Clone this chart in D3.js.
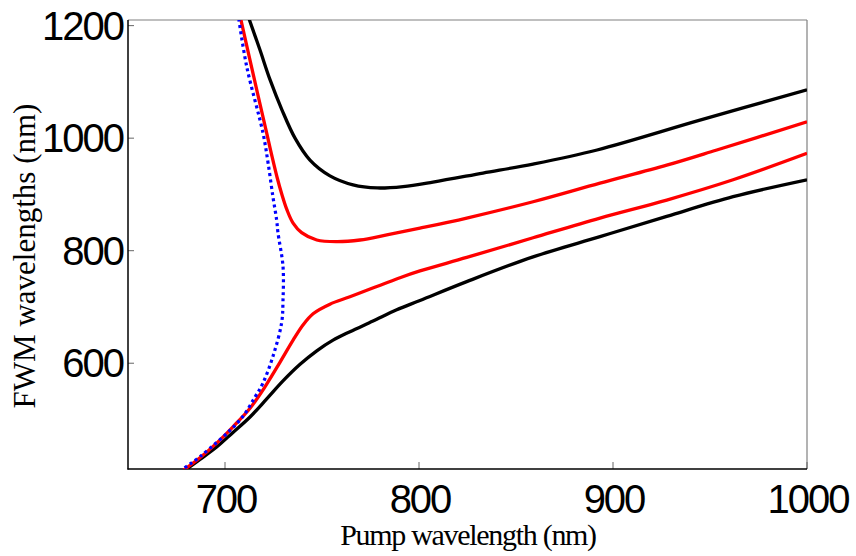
<!DOCTYPE html>
<html lang="en">
<head>
  <meta charset="UTF-8">
  <title>FWM wavelengths vs pump wavelength</title>
  <script src="https://d3js.org/d3.v7.min.js"></script>
  <style>
    body { margin: 0; background: #fff; }
    .tick-label { font-family: "Liberation Sans", Arial, sans-serif; font-size: 40px; letter-spacing: -2px; fill: #000; }
    .axis-title { font-family: "Liberation Serif", "Times New Roman", serif; font-size: 30px; fill: #000; }
  </style>
</head>
<body>
<div id="viz"></div>
<script>
// pump wavelength (nm) -> FWM wavelength (nm)
var outerUpper = [[712.4,1212],[718,1157],[723.2,1104],[729.4,1050],[736.1,1000],[743.8,961],[754.1,933],
  [766,917],[778.4,911.5],[791.8,914],[807.2,922],[833,938],[858.8,954],[891.8,979],[944.8,1032],[1000,1086]];
var innerUpper = [[708.1,1212],[714.7,1111],[721.5,1009],[724.2,968],[726.8,931],[729.4,899],[732,872],
  [735.1,849],[739.5,832],[747.3,819],[757.6,816],[769.6,819],[783.4,828],[800.5,840],[824.6,858],
  [858.8,887],[893.3,920],[927.7,952],[953.5,979],[1000,1029]];
var innerLower = [[676,404],[679.4,412],[687.1,432],[695.7,458],[704.1,487],[712.9,520],[720.6,558],
  [728.4,602],[735.1,641],[740.2,668],[745.4,688],[754.1,705],[764.4,718],[790.2,752],[800.5,764],
  [824.6,788],[858.8,823],[893.3,858],[927.7,890],[961.9,926],[1000,973]];
var outerLower = [[677,404],[680.3,412],[687.1,429],[695.7,451],[704.1,477],[712.9,504.5],[721.5,536.5],
  [729.9,568.5],[738.7,598],[747.3,622],[755.7,641],[764.4,656],[776.3,675],[788.5,695],[800.5,711.5],
  [824.6,745],[858.8,789],[893.3,825],[927.7,861],[961.9,896],[1000,926]];
var boundary = [[707.1,1212],[711.2,1127],[719.6,1009],[722.2,956],[724.7,896],[726.6,855],[727.3,832],
  [729.9,772],[729.9,712],[729.2,672],[724.7,612],[719.6,565],[715.5,540],[707.7,499],[687.1,434],
  [678.4,412],[676,405]];

var xTicks = [700, 800, 900, 1000];
var yTicks = [600, 800, 1000, 1200];

var width = 856, height = 556;
var margin = { left: 128, right: 49, top: 20, bottom: 87 };

var svg = d3.select("#viz").append("svg")
  .attr("width", width)
  .attr("height", height);

var x = d3.scaleLinear().domain([650, 1000]).range([margin.left, width - margin.right]);
var y = d3.scaleLinear().domain([412, 1210]).range([height - margin.bottom, margin.top]);

svg.append("clipPath").attr("id", "plot-clip")
  .append("rect")
  .attr("x", margin.left).attr("y", margin.top)
  .attr("width", x(1000) - margin.left).attr("height", y(412) - margin.top);

// frame: top/right grey, left/bottom black
svg.append("line").attr("x1", x(650)).attr("x2", x(1000)).attr("y1", y(1210)).attr("y2", y(1210))
  .attr("stroke", "#808080").attr("stroke-width", 1.2);
svg.append("line").attr("x1", x(1000)).attr("x2", x(1000)).attr("y1", y(1210)).attr("y2", y(412))
  .attr("stroke", "#808080").attr("stroke-width", 1.2);

// ticks (inward)
svg.selectAll(".xtick").data(xTicks).enter().append("line")
  .attr("x1", d => x(d)).attr("x2", d => x(d))
  .attr("y1", y(412)).attr("y2", y(412) - 7)
  .attr("stroke", "#666").attr("stroke-width", 1);
svg.selectAll(".ytick").data(yTicks).enter().append("line")
  .attr("x1", x(650)).attr("x2", x(650) + 6)
  .attr("y1", d => y(d)).attr("y2", d => y(d))
  .attr("stroke", "#666").attr("stroke-width", 1);

svg.append("line").attr("x1", x(650)).attr("x2", x(650)).attr("y1", y(1210)).attr("y2", y(412) + 0.5)
  .attr("stroke", "#000").attr("stroke-width", 1.5);
svg.append("line").attr("x1", x(650) - 0.5).attr("x2", x(1000)).attr("y1", y(412)).attr("y2", y(412))
  .attr("stroke", "#000").attr("stroke-width", 1.5);

// tick labels
svg.selectAll(".xlab").data(xTicks).enter().append("text")
  .attr("class", "tick-label")
  .attr("x", d => x(d) + 1)
  .attr("y", 513)
  .attr("text-anchor", "middle")
  .text(d => d);
svg.selectAll(".ylab").data(yTicks).enter().append("text")
  .attr("class", "tick-label")
  .attr("x", x(650) - 5)
  .attr("y", d => y(d) + 14)
  .attr("text-anchor", "end")
  .text(d => d);

// axis titles
svg.append("text").attr("class", "axis-title")
  .attr("x", 468).attr("y", 545)
  .attr("text-anchor", "middle")
  .style("letter-spacing", "-1.3px")
  .text("Pump wavelength (nm)");
svg.append("text").attr("class", "axis-title")
  .attr("transform", "translate(35,256) rotate(-90)")
  .attr("text-anchor", "middle")
  .style("font-size", "31px")
  .text("FWM wavelengths (nm)");

// curves
var line = d3.line()
  .x(d => x(d[0]))
  .y(d => y(d[1]))
  .curve(d3.curveCatmullRom.alpha(0.5));

var curves = svg.append("g").attr("clip-path", "url(#plot-clip)");

[[outerUpper, "#000"], [outerLower, "#000"], [innerUpper, "#ff0000"], [innerLower, "#ff0000"]]
  .forEach(function (c) {
    curves.append("path")
      .attr("d", line(c[0]))
      .attr("fill", "none")
      .attr("stroke", c[1])
      .attr("stroke-width", 3.3)
      .attr("stroke-linejoin", "round");
  });

curves.append("path")
  .attr("d", line(boundary))
  .attr("fill", "none")
  .attr("stroke", "#0000ff")
  .attr("stroke-width", 3.2)
  .attr("stroke-dasharray", "3,3.3");
</script>
</body>
</html>
